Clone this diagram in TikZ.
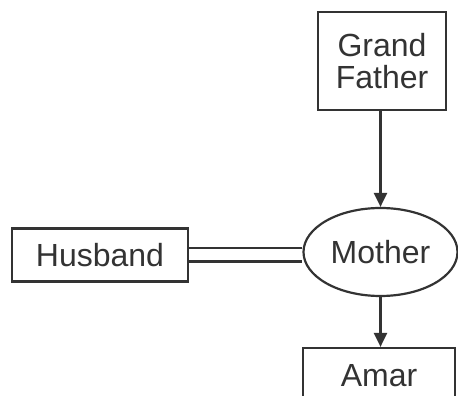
\documentclass[tikz,border=0pt]{standalone}
\usepackage{fontspec}
\setmainfont{Liberation Sans}
\definecolor{inkgrey}{HTML}{333333}
\usetikzlibrary{arrows.meta,shapes.geometric}

\begin{document}
\begin{tikzpicture}[x=1pt,y=1pt,
    every node/.style={text=inkgrey,font=\fontsize{32}{32}\selectfont},
    person/.style={draw=inkgrey,line width=2.2pt,rectangle,align=center,inner sep=0pt},
    link/.style={draw=inkgrey,line width=2.2pt,-{Triangle[length=14pt,width=13pt]}}]
  \useasboundingbox (0,0) rectangle (458,396);
  \node[person,minimum width=128pt,minimum height=98pt] (gf) at (382,335) {Grand\\Father};
  \node[draw=inkgrey,line width=2.2pt,ellipse,minimum width=154pt,minimum height=88pt,inner sep=0pt] (mother) at (380.5,144) {Mother};
  \node[person,minimum width=176pt,minimum height=53pt] (husband) at (100,141) {Husband};
  \node[person,minimum width=152pt,minimum height=56pt] (amar) at (379,20) {Amar};
  \draw[link] (gf.south -| mother.north) -- (mother.north);
  \draw[link] (mother.south) -- (amar.north -| mother.south);
  % marriage line
  \draw[inkgrey,line width=2.2pt,double,double distance=11pt] (husband.east) -- (husband.east -| mother.west);
\end{tikzpicture}
\end{document}
